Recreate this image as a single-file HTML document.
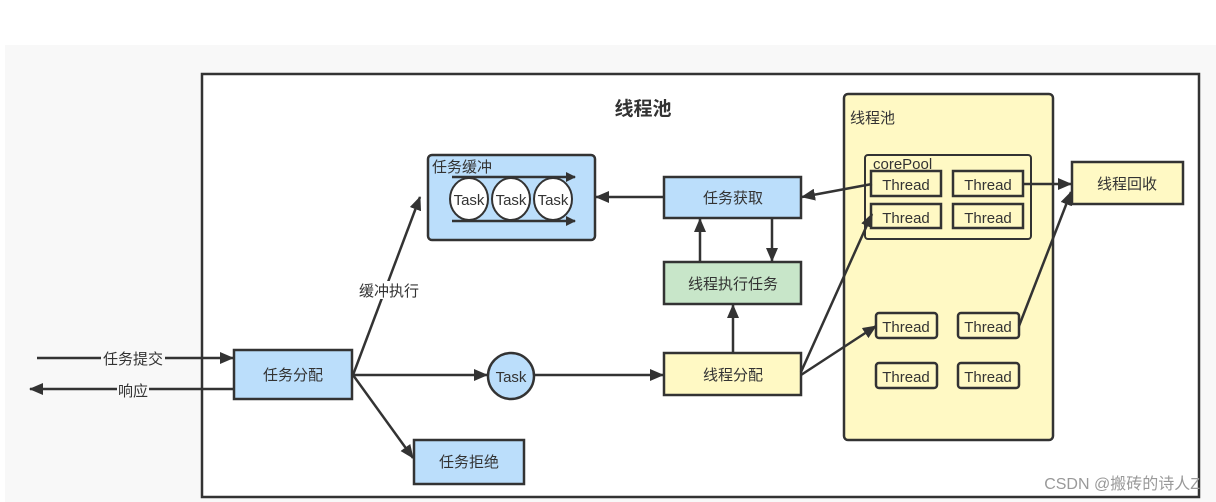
<!DOCTYPE html>
<html><head><meta charset="utf-8"><style>
html,body{margin:0;padding:0;background:#fff;}
svg{display:block;}
text{font-family:"Liberation Sans","Noto Sans CJK SC",sans-serif;fill:#333;}
</style></head><body>
<svg width="1216" height="502" viewBox="0 0 1216 502" xmlns="http://www.w3.org/2000/svg">
<defs>
<marker id="a" markerWidth="10" markerHeight="10" refX="9" refY="5" orient="auto" markerUnits="userSpaceOnUse"><path d="M0,0 L10,5 L0,10 z" fill="#333"/></marker>
<marker id="b" markerWidth="14" markerHeight="12" refX="13" refY="6" orient="auto" markerUnits="userSpaceOnUse"><path d="M0,0 L14,6 L0,12 z" fill="#333"/></marker>
</defs>
<rect x="5" y="45" width="1211" height="457" fill="#f8f8f8"/>
<rect x="202" y="74" width="997" height="423" fill="#fff" stroke="#333" stroke-width="2.5"/>
<text x="643" y="115" font-size="19" font-weight="bold" text-anchor="middle" fill="#222">线程池</text>

<!-- yellow pool -->
<rect x="844" y="94" width="209" height="346" rx="4" fill="#fff9c4" stroke="#333" stroke-width="2.5"/>
<text x="850" y="123" font-size="15">线程池</text>
<rect x="865" y="155" width="166" height="84" rx="3" fill="#fff9c4" stroke="#333" stroke-width="2"/>
<text x="873" y="169" font-size="15">corePool</text>
<g stroke="#333" stroke-width="2.5" fill="#fff9c4">
<rect x="871" y="171" width="70" height="25"/><rect x="953" y="171" width="70" height="25"/>
<rect x="871" y="204" width="70" height="24"/><rect x="953" y="204" width="70" height="24"/>
<rect x="876" y="313" width="61" height="25" rx="3"/><rect x="958" y="313" width="61" height="25" rx="3"/>
<rect x="876" y="363" width="61" height="25" rx="3"/><rect x="958" y="363" width="61" height="25" rx="3"/>
</g>
<g font-size="15" text-anchor="middle">
<text x="906" y="190">Thread</text><text x="988" y="190">Thread</text>
<text x="906" y="223">Thread</text><text x="988" y="223">Thread</text>
<text x="906" y="332">Thread</text><text x="988" y="332">Thread</text>
<text x="906" y="382">Thread</text><text x="988" y="382">Thread</text>
</g>
<rect x="1072" y="162" width="111" height="42" fill="#fff9c4" stroke="#333" stroke-width="2.5"/>
<text x="1127" y="189" font-size="15" text-anchor="middle">线程回收</text>

<!-- buffer -->
<rect x="428" y="155" width="167" height="85" rx="4" fill="#bbdefb" stroke="#333" stroke-width="2.5"/>
<text x="432" y="172" font-size="15">任务缓冲</text>
<g stroke="#333" stroke-width="2.5" fill="none">
<line x1="452" y1="177" x2="575" y2="177" marker-end="url(#a)"/>
<line x1="452" y1="221" x2="575" y2="221" marker-end="url(#a)"/>
</g>
<g stroke="#333" stroke-width="2" fill="#fff">
<ellipse cx="469" cy="199" rx="19" ry="21"/><ellipse cx="511" cy="199" rx="19" ry="21"/><ellipse cx="553" cy="199" rx="19" ry="21"/>
</g>
<g font-size="15" text-anchor="middle"><text x="469" y="205">Task</text><text x="511" y="205">Task</text><text x="553" y="205">Task</text></g>

<!-- boxes -->
<rect x="664" y="177" width="137" height="41" fill="#bbdefb" stroke="#333" stroke-width="2.5"/>
<text x="733" y="203" font-size="15" text-anchor="middle">任务获取</text>
<rect x="664" y="262" width="137" height="42" fill="#c8e6c9" stroke="#333" stroke-width="2.5"/>
<text x="733" y="289" font-size="15" text-anchor="middle">线程执行任务</text>
<rect x="664" y="353" width="137" height="42" fill="#fff9c4" stroke="#333" stroke-width="2.5"/>
<text x="733" y="380" font-size="15" text-anchor="middle">线程分配</text>
<rect x="234" y="350" width="118" height="49" fill="#bbdefb" stroke="#333" stroke-width="2.5"/>
<text x="293" y="380" font-size="15" text-anchor="middle">任务分配</text>
<rect x="414" y="440" width="110" height="44" fill="#bbdefb" stroke="#333" stroke-width="2.5"/>
<text x="469" y="467" font-size="15" text-anchor="middle">任务拒绝</text>
<circle cx="511" cy="376" r="23" fill="#bbdefb" stroke="#333" stroke-width="2.5"/>
<text x="511" y="382" font-size="15" text-anchor="middle">Task</text>

<!-- connectors -->
<g stroke="#333" stroke-width="2.5" fill="none">
<line x1="37" y1="358" x2="233" y2="358" marker-end="url(#b)"/>
<line x1="234" y1="389" x2="30" y2="389" marker-end="url(#b)"/>
<line x1="353" y1="375" x2="420" y2="197" marker-end="url(#b)"/>
<line x1="353" y1="375" x2="487" y2="375" marker-end="url(#b)"/>
<line x1="353" y1="375" x2="413" y2="458" marker-end="url(#b)"/>
<line x1="535" y1="375" x2="663" y2="375" marker-end="url(#b)"/>
<line x1="664" y1="197" x2="596" y2="197" marker-end="url(#b)"/>
<line x1="700" y1="262" x2="700" y2="219" marker-end="url(#b)"/>
<line x1="772" y1="218" x2="772" y2="261" marker-end="url(#b)"/>
<line x1="733" y1="353" x2="733" y2="305" marker-end="url(#b)"/>
<line x1="872" y1="184" x2="802" y2="197" marker-end="url(#b)"/>
<line x1="801" y1="372" x2="872" y2="214" marker-end="url(#b)"/>
<line x1="801" y1="375" x2="876" y2="326" marker-end="url(#b)"/>
<line x1="1023" y1="184" x2="1071" y2="184" marker-end="url(#b)"/>
<line x1="1019" y1="326" x2="1071" y2="192" marker-end="url(#b)"/>
</g>
<rect x="101" y="349" width="64" height="18" fill="#f8f8f8"/>
<text x="133" y="364" font-size="15" text-anchor="middle">任务提交</text>
<rect x="117" y="381" width="32" height="18" fill="#f8f8f8"/>
<text x="133" y="396" font-size="15" text-anchor="middle">响应</text>
<rect x="357" y="281" width="64" height="18" fill="#fff"/>
<text x="389" y="296" font-size="15" text-anchor="middle">缓冲执行</text>
<text x="1200" y="489" font-size="16" text-anchor="end" fill="#999" style="fill:#999">CSDN @搬砖的诗人Z</text>
</svg>
</body></html>
